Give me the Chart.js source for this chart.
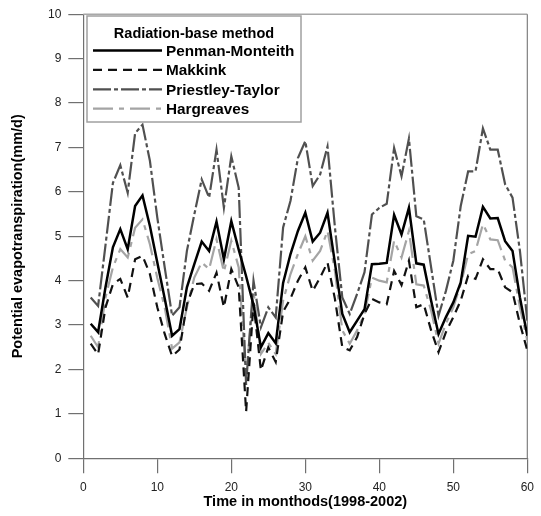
<!DOCTYPE html>
<html>
<head>
<meta charset="utf-8">
<script src="https://cdn.jsdelivr.net/npm/chart.js@4.4.1/dist/chart.umd.min.js"></script>
<style>
  html, body { margin: 0; padding: 0; background: #fff; }
  #chart { display: block; }
</style>
</head>
<body>
<canvas id="chart" width="541" height="516"></canvas>
<script>
// Месяцы 1998-2002 (1..60)
const months = [
  1, 2, 3, 4, 5, 6, 7, 8, 9, 10, 11, 12, 13, 14, 15, 16, 17, 18, 19, 20,
  21, 22, 23, 24, 25, 26, 27, 28, 29, 30, 31, 32, 33, 34, 35, 36, 37, 38, 39, 40,
  41, 42, 43, 44, 45, 46, 47, 48, 49, 50, 51, 52, 53, 54, 55, 56, 57, 58, 59, 60
];

const penmanMonteith = [
  3.03, 2.84, 3.85, 4.75, 5.16, 4.71, 5.68, 5.92, 5.23, 4.41,
  3.60, 2.76, 2.91, 3.85, 4.37, 4.88, 4.67, 5.33, 4.48, 5.34,
  4.70, 4.10, 3.45, 2.50, 2.82, 2.59, 3.95, 4.60, 5.12, 5.53,
  4.88, 5.08, 5.53, 4.40, 3.25, 2.84, 3.10, 3.36, 4.37, 4.38,
  4.40, 5.48, 5.04, 5.64, 4.39, 4.36, 3.55, 2.80, 3.18, 3.51,
  3.96, 5.01, 4.99, 5.66, 5.40, 5.41, 4.89, 4.67, 3.62, 2.76
];

const makkink = [
  2.58, 2.34, 3.40, 3.92, 4.04, 3.62, 4.48, 4.56, 4.15, 3.40,
  2.80, 2.30, 2.45, 3.47, 3.92, 3.94, 3.77, 4.18, 3.40, 4.26,
  3.85, 1.05, 3.50, 1.98, 2.50, 2.17, 3.30, 3.60, 4.00, 4.30,
  3.77, 4.07, 4.41, 3.59, 2.50, 2.43, 2.73, 3.25, 3.59, 3.51,
  3.47, 4.22, 3.90, 4.45, 3.40, 3.47, 2.88, 2.39, 2.84, 3.18,
  3.55, 4.11, 4.04, 4.48, 4.26, 4.26, 3.85, 3.74, 3.03, 2.43
];

const priestleyTaylor = [
  3.62, 3.43, 4.80, 6.20, 6.60, 5.98, 7.32, 7.51, 6.70, 5.42,
  4.30, 3.21, 3.40, 4.67, 5.49, 6.28, 5.87, 6.95, 5.64, 6.80,
  6.09, 1.65, 4.00, 2.95, 3.40, 3.17, 5.20, 5.80, 6.76, 7.14,
  6.13, 6.39, 7.02, 5.20, 3.62, 3.25, 3.70, 4.19, 5.49, 5.64,
  5.73, 6.99, 6.35, 7.20, 5.45, 5.38, 4.30, 3.21, 3.77, 4.45,
  5.68, 6.46, 6.46, 7.43, 6.95, 6.95, 6.17, 5.87, 4.67, 3.10
];

const hargreaves = [
  2.76, 2.50, 3.62, 4.30, 4.71, 4.52, 5.19, 5.38, 4.82, 4.06,
  3.40, 2.47, 2.61, 3.40, 4.07, 4.41, 4.26, 4.93, 4.20, 4.90,
  4.30, 1.80, 3.77, 2.35, 2.60, 2.35, 3.55, 4.15, 4.60, 5.00,
  4.45, 4.67, 5.12, 4.22, 2.88, 2.58, 2.88, 3.25, 4.07, 4.00,
  3.96, 4.90, 4.52, 5.12, 3.92, 3.89, 3.33, 2.58, 3.03, 3.40,
  3.92, 4.59, 4.67, 5.27, 4.93, 4.91, 4.45, 4.30, 3.40, 2.65
];

const xTicks = [0, 10, 20, 30, 40, 50, 60];
const yTicks = [0, 1, 2, 3, 4, 5, 6, 7, 8, 9, 10];

const legendTitle = 'Radiation-base method';
const FONT = '"Liberation Sans", Arial, Helvetica, sans-serif';

function toPoints(values) {
    return values.map((v, i) => ({ x: months[i], y: v }));
}

// рамка сверху и справа
const framePlugin = {
    id: 'frame',
    beforeDatasetsDraw(chart) {
        const { ctx, chartArea: a } = chart;
        ctx.save();
        ctx.lineWidth = 1.5;
        ctx.strokeStyle = '#a8a8a8';
        ctx.beginPath();
        ctx.moveTo(a.left, a.top);
        ctx.lineTo(a.right, a.top);
        ctx.stroke();
        ctx.strokeStyle = '#808080';
        ctx.lineWidth = 1.2;
        ctx.beginPath();
        ctx.moveTo(a.right, a.top);
        ctx.lineTo(a.right, a.bottom);
        ctx.stroke();
        ctx.restore();
    }
};

// легенда в рамке с заголовком
const boxLegendPlugin = {
    id: 'boxLegend',
    afterDraw(chart) {
        const ctx = chart.ctx;
        const box = { x: 87, y: 16, w: 214, h: 106 };
        ctx.save();
        ctx.fillStyle = '#fff';
        ctx.fillRect(box.x, box.y, box.w, box.h);
        ctx.strokeStyle = '#a0a0a0';
        ctx.lineWidth = 1.5;
        ctx.strokeRect(box.x, box.y, box.w, box.h);

        ctx.fillStyle = '#000';
        ctx.font = 'bold 14.5px ' + FONT;
        ctx.textAlign = 'center';
        ctx.textBaseline = 'middle';
        ctx.fillText(legendTitle, box.x + box.w / 2, 33.5);

        ctx.textAlign = 'left';
        ctx.font = 'bold 15.3px ' + FONT;
        chart.data.datasets.forEach((ds, i) => {
            const y = 50.5 + i * 19.4;
            ctx.strokeStyle = ds.borderColor;
            ctx.lineWidth = ds.borderWidth;
            ctx.setLineDash(ds.borderDash || []);
            ctx.beginPath();
            ctx.moveTo(93, y);
            ctx.lineTo(162, y);
            ctx.stroke();
            ctx.setLineDash([]);
            ctx.fillStyle = '#000';
            ctx.fillText(ds.label, 166, y + 1);
        });
        ctx.restore();
    }
};

const ctx = document.getElementById('chart').getContext('2d');
new Chart(ctx, {
    type: 'line',
    data: {
        datasets: [
            {
                label: 'Penman-Monteith',
                data: toPoints(penmanMonteith),
                borderColor: '#000000',
                borderWidth: 2.5,
                borderDash: []
            },
            {
                label: 'Makkink',
                data: toPoints(makkink),
                borderColor: '#111111',
                borderWidth: 2.2,
                borderDash: [9, 6]
            },
            {
                label: 'Priestley-Taylor',
                data: toPoints(priestleyTaylor),
                borderColor: '#505050',
                borderWidth: 2.2,
                borderDash: [18, 3, 4, 3]
            },
            {
                label: 'Hargreaves',
                data: toPoints(hargreaves),
                borderColor: '#a4a4a4',
                borderWidth: 2.2,
                borderDash: [20, 6, 5, 6]
            }
        ]
    },
    options: {
        responsive: false,
        animation: false,
        layout: { padding: { left: 0, right: 10, top: 12.7, bottom: 0 } },
        elements: {
            point: { radius: 0 },
            line: { tension: 0, fill: false, borderCapStyle: 'butt' }
        },
        plugins: {
            legend: { display: false },
            tooltip: { enabled: false }
        },
        scales: {
            x: {
                type: 'linear',
                min: 0,
                max: 60,
                afterBuildTicks: (scale) => { scale.ticks = xTicks.map(v => ({ value: v })); },
                afterFit: (scale) => { scale.height = 57.7; },
                grid: {
                    drawOnChartArea: false,
                    drawTicks: true,
                    tickLength: 15,
                    tickColor: '#707070',
                    lineWidth: 1.2
                },
                border: { display: true, color: '#707070', width: 1.2 },
                ticks: {
                    padding: 7,
                    color: '#222',
                    font: { family: FONT, size: 12 },
                    maxRotation: 0
                },
                title: {
                    display: true,
                    text: 'Time in monthods(1998-2002)',
                    color: '#000',
                    font: { family: FONT, size: 14.5, weight: 'bold' },
                    padding: { top: 0, bottom: 5.5 }
                }
            },
            y: {
                min: 0,
                max: 10,
                afterBuildTicks: (scale) => { scale.ticks = yTicks.map(v => ({ value: v })); },
                afterFit: (scale) => { scale.width = 83.3; },
                grid: {
                    drawOnChartArea: false,
                    drawTicks: true,
                    tickLength: 15,
                    tickColor: '#707070',
                    lineWidth: 1.2
                },
                border: { display: true, color: '#707070', width: 1.2 },
                ticks: {
                    padding: 7,
                    color: '#222',
                    font: { family: FONT, size: 12 }
                },
                title: {
                    display: true,
                    text: 'Potential evapotranspiration(mm/d)',
                    color: '#000',
                    font: { family: FONT, size: 14.5, weight: 'bold' },
                    padding: { top: 9, bottom: 0 }
                }
            }
        }
    },
    plugins: [framePlugin, boxLegendPlugin]
});
</script>
</body>
</html>
